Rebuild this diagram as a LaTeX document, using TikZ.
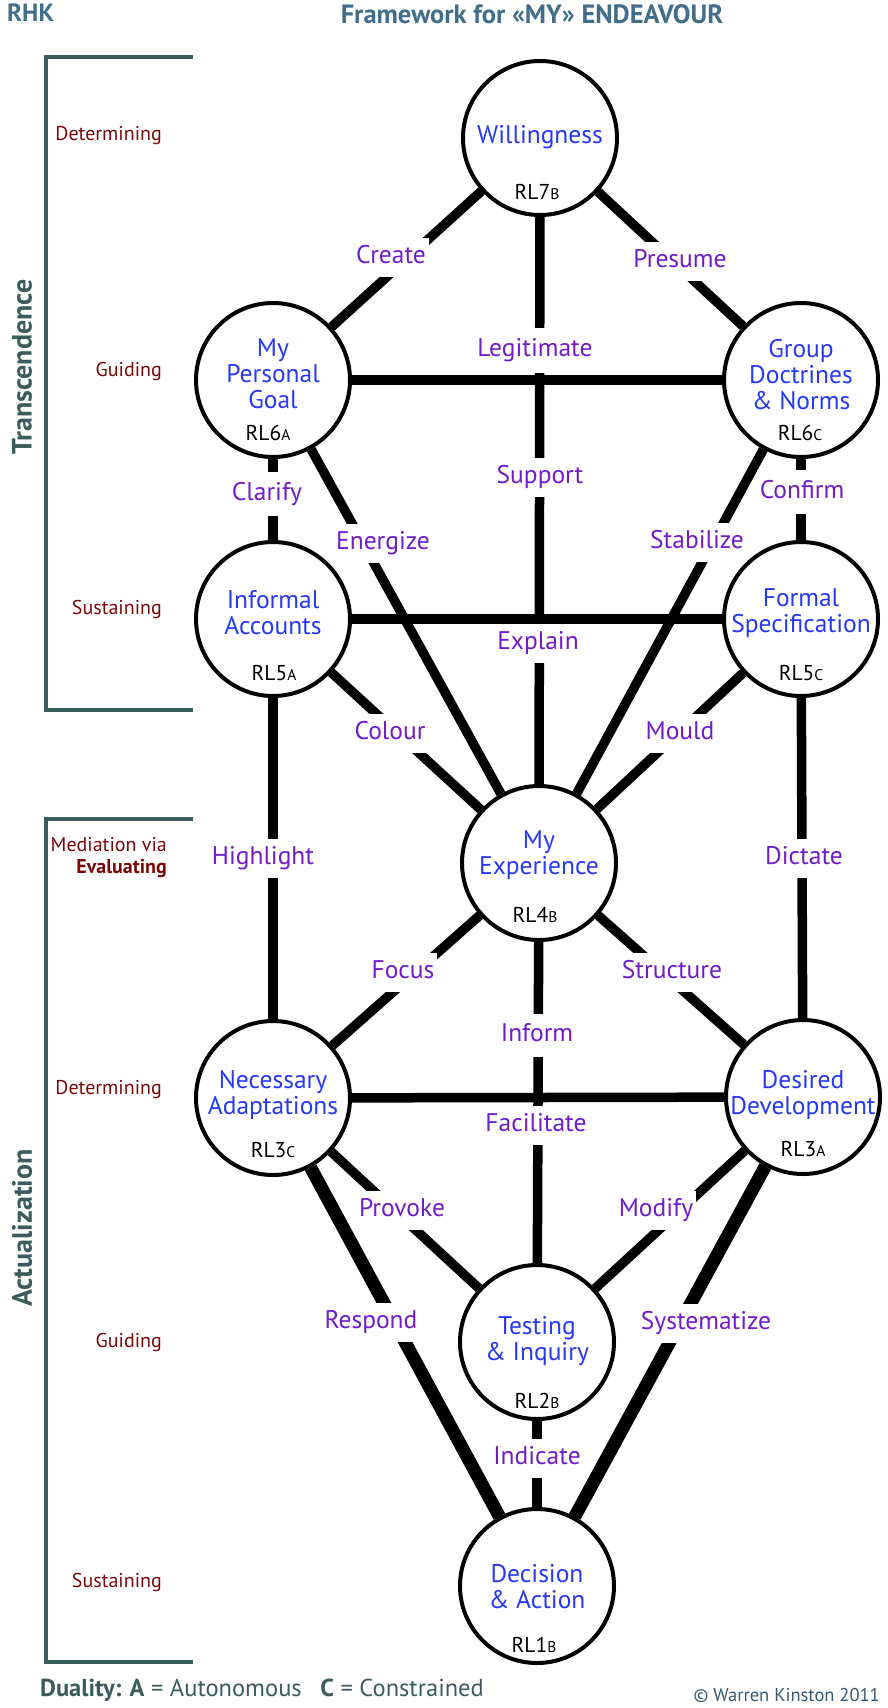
\documentclass[tikz,border=0pt]{standalone}
\usepackage{fontspec}
\setmainfont{PT Sans}
\usepackage{tikz}
\usetikzlibrary{backgrounds}
\definecolor{stageblue}{RGB}{38,56,250}
\definecolor{verbpurple}{RGB}{112,28,204}
\definecolor{levelred}{RGB}{122,8,8}
\definecolor{slate}{RGB}{58,92,94}
\definecolor{titleblue}{RGB}{66,110,140}
\newcommand{\dual}[1]{{\fontsize{15.5}{15.5}\selectfont #1}}

\begin{document}
\begin{tikzpicture}[x=1pt,y=-1pt,
	stage/.style={circle,draw,line width=4pt,fill=white,minimum size=154pt,inner sep=0pt},
	stagename/.style={align=center,text=stageblue,inner sep=0pt,font=\fontsize{25.5}{26}\selectfont},
	rl/.style={inner sep=0pt,font=\fontsize{21.5}{21.5}\selectfont},
	link/.style={line width=9.5pt},
	thicklink/.style={line width=13pt},
	verb/.style={fill=white,text=verbpurple,font=\fontsize{25.5}{25.5}\selectfont,text height=18pt,text depth=5pt,inner xsep=3pt,inner ysep=8pt},
	level/.style={anchor=east,align=right,inner sep=0pt,text=levelred,font=\fontsize{20}{22}\selectfont},
	bracket/.style={draw=slate,line width=4pt,line join=miter},
	side/.style={rotate=90,inner sep=0pt,text=slate,font=\bfseries\fontsize{28}{28}\selectfont}]
			\useasboundingbox (0,0) rectangle (887,1708);
			\node[anchor=west,inner sep=0pt,text=titleblue,font=\bfseries\fontsize{25}{25}\selectfont] (rhk) at (7,13) {RHK};
			\node[inner sep=0pt,text=titleblue,font=\bfseries\fontsize{26.5}{26.5}\selectfont] (title) at (532,14) {Framework for «MY» ENDEAVOUR};
			\draw[bracket] (193,57) -- (46,57) -- (46,710) -- (193,710);
			\draw[bracket] (193,819) -- (46,819) -- (46,1662) -- (193,1662);
			\node[side] (transc) at (22,367) {Transcendence};
			\node[side] (actual) at (22,1228) {Actualization};
			\node[level] (det1) at (162,136) {Determining};
			\node[level] (gui1) at (162,371) {Guiding};
			\node[level] (sus1) at (162,609) {Sustaining};
			\node[level] (med) at (167,858) {Mediation via\\\textbf{Evaluating}};
			\node[level] (det2) at (162,1090) {Determining};
			\node[level] (gui2) at (162,1342) {Guiding};
			\node[level] (sus2) at (162,1582) {Sustaining};

			\node[stage] (will) at (540,138) {};
			\node[stage] (goal) at (273,380) {};
			\node[stage] (group) at (801,380) {};
			\node[stage] (informal) at (273,619) {};
			\node[stage] (formal) at (801,619) {};
			\node[stage] (exp) at (539,863) {};
			\node[stage] (need) at (273,1098) {};
			\node[stage] (desire) at (803,1097) {};
			\node[stage] (test) at (537,1342) {};
			\node[stage] (decide) at (537,1586) {};

			\begin{scope}[on background layer]
			\draw[link] (will) -- (goal);
			\draw[link] (will) -- (group);
			\draw[link] (will) -- (exp);
			\draw[link] (goal) -- (group);
			\draw[link] (goal) -- (informal);
			\draw[link] (goal) -- (exp);
			\draw[link] (group) -- (formal);
			\draw[link] (group) -- (exp);
			\draw[link] (informal) -- (formal);
			\draw[link] (informal) -- (exp);
			\draw[link] (formal) -- (exp);
			\draw[link] (informal) -- (need);
			\draw[link] (formal) -- (desire);
			\draw[link] (exp) -- (need);
			\draw[link] (exp) -- (desire);
			\draw[link] (exp) -- (test);
			\draw[link] (need) -- (desire);
			\draw[link] (need) -- (test);
			\draw[link] (desire) -- (test);
			\draw[thicklink] (need) -- (decide);
			\draw[thicklink] (desire) -- (decide);
			\draw[link] (test) -- (decide);
			\end{scope}

			\node[stagename] (willname) at (540,137) {Willingness};
			\node[rl] (willrl) at (537,192) {RL7\dual{B}};
			\node[stagename] (goalname) at (273,374) {My\\Personal\\Goal};
			\node[rl] (goalrl) at (268,433) {RL6\dual{A}};
			\node[stagename] (groupname) at (801,375) {Group\\Doctrines\\\& Norms};
			\node[rl] (grouprl) at (800,433) {RL6\dual{C}};
			\node[stagename] (informalname) at (273,613) {Informal\\Accounts};
			\node[rl] (informalrl) at (274,673) {RL5\dual{A}};
			\node[stagename] (formalname) at (801,613) {Formal\\Specification};
			\node[rl] (formalrl) at (801,673) {RL5\dual{C}};
			\node[stagename] (expname) at (539,855) {My\\Experience};
			\node[rl] (exprl) at (535,915) {RL4\dual{B}};
			\node[stagename] (needname) at (273,1095) {Necessary\\Adaptations};
			\node[rl] (needrl) at (273,1150) {RL3\dual{C}};
			\node[stagename] (desirename) at (803,1095) {Desired\\Development};
			\node[rl] (desirerl) at (803,1149) {RL3\dual{A}};
			\node[stagename] (testname) at (537,1341) {Testing\\\& Inquiry};
			\node[rl] (testrl) at (537,1401) {RL2\dual{B}};
			\node[stagename] (decidename) at (537,1587) {Decision\\\& Action};
			\node[rl] (deciderl) at (534,1645) {RL1\dual{B}};

			\node[verb] (create) at (391,257) {Create};
			\node[verb] (presume) at (680,261) {Presume};
			\node[verb,inner ysep=11pt] (legit) at (535,350) {Legitimate};
			\node[verb] (support) at (540,477) {Support};
			\node[verb,inner ysep=10.5pt] (clarify) at (267,494) {Clarify};
			\node[verb,inner ysep=10.5pt] (confirm) at (802,492) {Confirm};
			\node[verb] (energize) at (383,543) {Energize};
			\node[verb] (stabilize) at (697,542) {Stabilize};
			\node[verb] (explain) at (538,643) {Explain};
			\node[verb] (colour) at (390,733) {Colour};
			\node[verb] (mould) at (680,733) {Mould};
			\node[verb] (highlight) at (263,858) {Highlight};
			\node[verb] (dictate) at (804,858) {Dictate};
			\node[verb] (focus) at (403,972) {Focus};
			\node[verb] (structure) at (672,972) {Structure};
			\node[verb,inner ysep=10pt] (inform) at (537,1035) {Inform};
			\node[verb] (facilitate) at (536,1125) {Facilitate};
			\node[verb] (provoke) at (402,1210) {Provoke};
			\node[verb] (modify) at (656,1210) {Modify};
			\node[verb] (respond) at (371,1322) {Respond};
			\node[verb] (systematize) at (706,1323) {Systematize};
			\node[verb] (indicate) at (537,1458) {Indicate};

			\node[anchor=west,inner sep=0pt,text=slate,font=\fontsize{24.5}{24.5}\selectfont] (duality) at (40,1690) {\textbf{Duality: A} = Autonomous\hspace{12pt} \textbf{C} = Constrained};
			\node[anchor=east,inner sep=0pt,text=titleblue!80!black,font=\fontsize{18.5}{18.5}\selectfont] (copy) at (880,1695) {© Warren Kinston 2011};
		\end{tikzpicture}
\end{document}
